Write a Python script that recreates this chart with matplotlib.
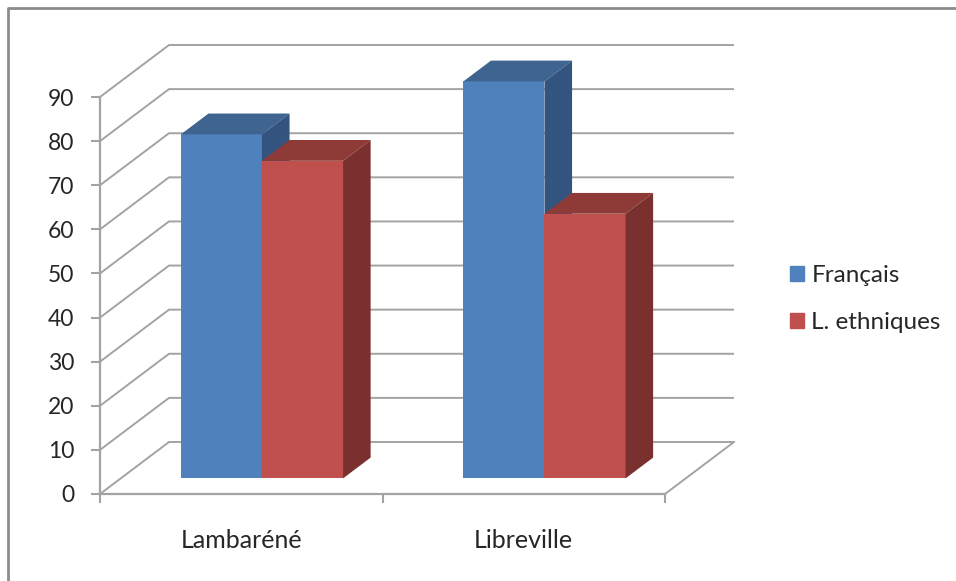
import matplotlib
matplotlib.use('Agg')
from matplotlib import pyplot as plt
from matplotlib.patches import Patch
from matplotlib.lines import Line2D
import numpy as np

villes = ['Lambaréné', 'Libreville']
francais = [78, 90]
ethniques = [72, 60]
graduations = list(range(0, 100, 10))

plt.rcParams['font.family'] = ['Lato', 'DejaVu Sans']

GRIS = '#a3a3a3'
TEXTE = '#262626'

fig = plt.figure(figsize=(9.56, 5.81), dpi=100)
ax = fig.add_axes([100/956, 1-494/581, 565/956, 397/581])
ax.set_xlim(0, 2)
ax.set_ylim(0, 90)

# decalage oblique de la profondeur, en unites des axes
prof_x = 69/282.5
prof_y = 52/4.411
larg = 0.287
d0, d1 = 0.3, 0.7

# parois : grille en biais puis horizontale
for g in graduations:
    ax.plot([0, prof_x, 2+prof_x], [g, g+prof_y, g+prof_y], color=GRIS, lw=1.4,
            clip_on=False, zorder=1, solid_capstyle='butt')
# bord droit du sol
ax.plot([2, 2+prof_x], [0, prof_y], color=GRIS, lw=1.4, clip_on=False, zorder=1)


def barre(x, v, face, dessus, cote, z):
    xa = x + d0*prof_x
    ya = d0*prof_y
    dx = (d1-d0)*prof_x
    dy = (d1-d0)*prof_y
    ax.bar(xa, v, larg, bottom=ya, align='edge', color=face, clip_on=False, zorder=z)
    ax.fill([xa, xa+larg, xa+larg+dx, xa+dx], [ya+v, ya+v, ya+v+dy, ya+v+dy],
            color=dessus, lw=0, clip_on=False, zorder=z)
    ax.fill([xa+larg, xa+larg+dx, xa+larg+dx, xa+larg], [ya, ya+dy, ya+v+dy, ya+v],
            color=cote, lw=0, clip_on=False, zorder=z)


marge = (1 - 2*larg)/2
for i in range(len(villes)):
    barre(i+marge, francais[i], '#4f81bd', '#3f6490', '#32547f', 3+i)
    barre(i+marge+larg, ethniques[i], '#c0504d', '#8e3a37', '#7a302e', 3+i+0.5)

for s in ['top', 'right']:
    ax.spines[s].set_visible(False)
for s in ['left', 'bottom']:
    ax.spines[s].set_color(GRIS)
    ax.spines[s].set_linewidth(1.6)

ax.set_yticks(graduations)
ax.tick_params(axis='y', length=6.5, width=1.5, color=GRIS, pad=12, labelsize=16.5, labelcolor=TEXTE)
ax.set_xticks([0, 1, 2])
ax.set_xticklabels([])
ax.tick_params(axis='x', length=6.5, width=1.5, color=GRIS)
ax.set_xticks([0.5, 1.5], minor=True)
ax.set_xticklabels(villes, minor=True)
ax.tick_params(axis='x', which='minor', length=0, pad=25, labelsize=18, labelcolor=TEXTE)

poignees = [Patch(color='#4f81bd'), Patch(color='#c0504d')]
fig.legend(poignees, ['Français', 'L. ethniques'], loc='center left',
           bbox_to_anchor=(790/956, 1-299/581), frameon=False, fontsize=17.5,
           labelcolor=TEXTE, handlelength=0.58, handleheight=0.58, handletextpad=0.3,
           labelspacing=1.07, borderpad=0, borderaxespad=0)

# cadre du graphique : seuls les bords gauche et haut sont visibles
fig.add_artist(Line2D([8/956, 8/956, 1], [0, 1-8/581, 1-8/581], color='#8c8c8c', lw=2,
                      transform=fig.transFigure))

fig.savefig('out.png', dpi=100)
